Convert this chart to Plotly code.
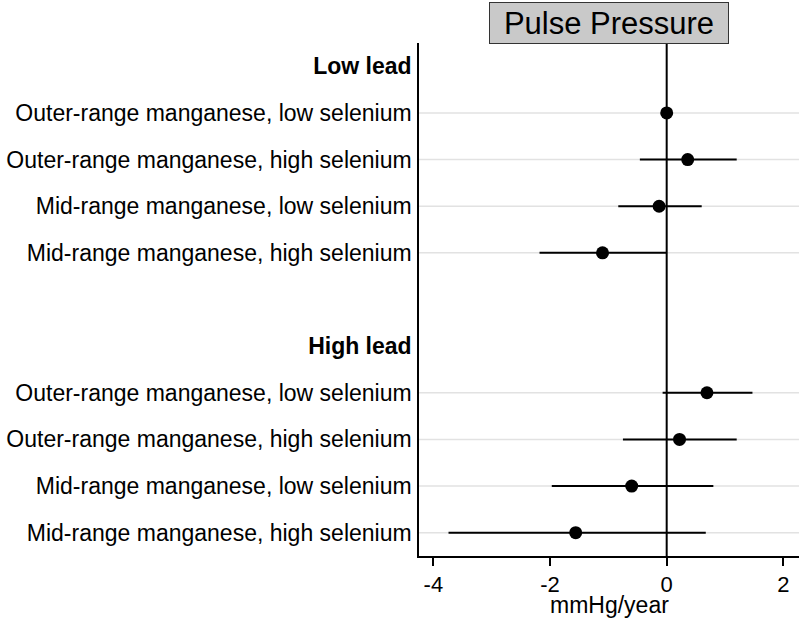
import plotly.graph_objects as go

# ---- data ----
groups = ["Low lead", "High lead"]
row_labels = [
    "Outer-range manganese, low selenium",
    "Outer-range manganese, high selenium",
    "Mid-range manganese, low selenium",
    "Mid-range manganese, high selenium",
]
low_est = [0.0, 0.36, -0.13, -1.10]
low_lo = [0.0, -0.46, -0.83, -2.18]
low_hi = [0.0, 1.20, 0.60, 0.00]
high_est = [0.69, 0.22, -0.60, -1.56]
high_lo = [-0.07, -0.75, -1.97, -3.74]
high_hi = [1.47, 1.20, 0.80, 0.67]
x_ticks = [-4, -2, 0, 2]
x_ticktext = ["-4", "-2", "0", "2"]
title_text = "Pulse Pressure"
x_title = "mmHg/year"

# ---- layout positions (row slots) ----
low_pos = [1, 2, 3, 4]
high_pos = [7, 8, 9, 10]
header_pos = [0, 6]

est = low_est + high_est
lo = low_lo + high_lo
hi = low_hi + high_hi
ypos = low_pos + high_pos

FONT = "Liberation Sans, Arial, Helvetica, sans-serif"

fig = go.Figure()
fig.add_trace(go.Scatter(
    x=est, y=ypos, mode="markers",
    marker=dict(size=13, color="black"),
    error_x=dict(type="data", symmetric=False,
                 array=[h - e for h, e in zip(hi, est)],
                 arrayminus=[e - l for e, l in zip(est, lo)],
                 color="black", thickness=2, width=0),
    showlegend=False, hoverinfo="x+y",
))

shapes = []
for p in ypos:
    shapes.append(dict(type="line", xref="paper", x0=0, x1=1, yref="y", y0=p, y1=p,
                       line=dict(color="#e2e2e2", width=1.5), layer="below"))
shapes.append(dict(type="line", xref="x", x0=0, x1=0, yref="paper", y0=0, y1=1,
                   line=dict(color="black", width=2), layer="below"))

tickvals = [header_pos[0]] + low_pos + [header_pos[1]] + high_pos
ticktext = ["<b>%s</b>" % groups[0]] + row_labels + ["<b>%s</b>" % groups[1]] + row_labels

fig.update_layout(
    width=800, height=619,
    margin=dict(l=419, r=1, t=43, b=63, autoexpand=False),
    plot_bgcolor="white", paper_bgcolor="white",
    font=dict(family=FONT, size=23, color="black"),
    shapes=shapes,
    xaxis=dict(range=[-4.246, 2.268], tickvals=x_ticks, ticktext=x_ticktext,
               ticks="outside", ticklen=8,
               tickwidth=1.5, tickcolor="black", showgrid=False, zeroline=False,
               showline=True, linecolor="black", linewidth=1.5, automargin=False,
               tickfont=dict(size=22)),
    yaxis=dict(range=[10.5, -0.5], tickvals=tickvals, ticktext=ticktext,
               showgrid=False, zeroline=False, showline=True, linecolor="black",
               linewidth=1.5, ticks="", ticklabelstandoff=1, automargin=False,
               tickfont=dict(size=23)),
    annotations=[
        dict(text=title_text, xref="paper", yref="paper", x=0.5, y=1,
             xanchor="center", yanchor="bottom", yshift=-1,
             showarrow=False, font=dict(size=31, color="black"),
             bgcolor="#c9c9c9", bordercolor="#333333", borderwidth=1,
             width=236, height=38, borderpad=1),
        dict(text=x_title, xref="paper", yref="paper", x=0.5, y=0,
             xanchor="center", yanchor="top", yshift=-34,
             showarrow=False, font=dict(size=23, color="black")),
    ],
)

fig.write_html("out.html", config={"displayModeBar": False},
               post_script="document.body.style.margin='0';document.body.style.padding='0';")
